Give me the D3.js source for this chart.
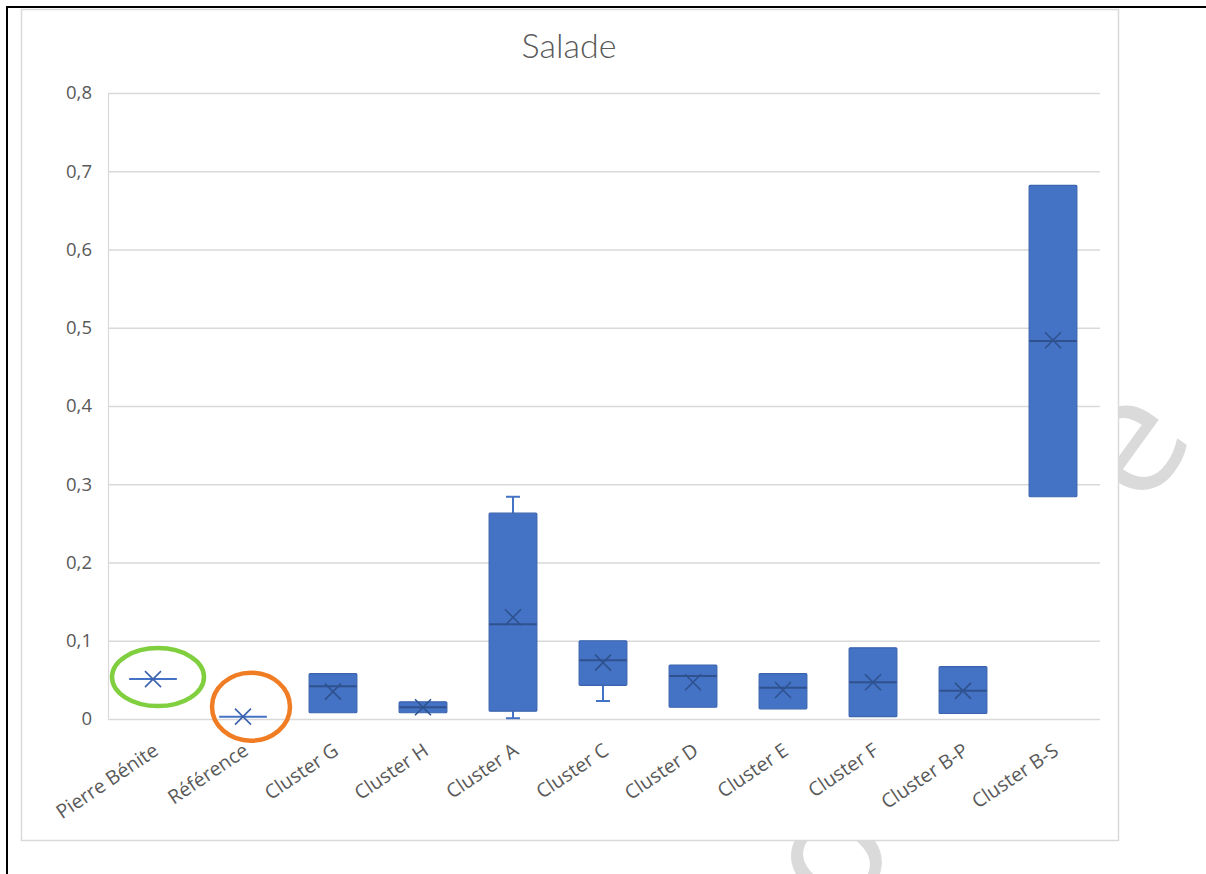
<!DOCTYPE html>
<html>
<head>
<meta charset="utf-8">
<script src="https://cdn.jsdelivr.net/npm/d3@7"></script>
<style>
  html, body { margin: 0; padding: 0; background: #fff; }
  svg { display: block; }
</style>
</head>
<body>
<svg id="chart" width="1206" height="874"></svg>
<script>
// Salade — box plots per sampling group
const categories = ["Pierre Bénite", "Référence", "Cluster G", "Cluster H", "Cluster A",
                    "Cluster C", "Cluster D", "Cluster E", "Cluster F", "Cluster B-P", "Cluster B-S"];
const minVals    = [0.051, 0.003, 0.008, 0.008, 0.001, 0.023, 0.015, 0.013, 0.003, 0.007, 0.284];
const q1Vals     = [0.051, 0.003, 0.008, 0.008, 0.010, 0.043, 0.015, 0.013, 0.003, 0.007, 0.284];
const medianVals = [0.051, 0.003, 0.042, 0.015, 0.121, 0.075, 0.055, 0.040, 0.047, 0.036, 0.483];
const q3Vals     = [0.051, 0.003, 0.058, 0.022, 0.263, 0.100, 0.069, 0.058, 0.091, 0.067, 0.682];
const maxVals    = [0.051, 0.003, 0.058, 0.022, 0.284, 0.100, 0.069, 0.058, 0.091, 0.067, 0.682];
const meanVals   = [0.051, 0.003, 0.035, 0.015, 0.130, 0.072, 0.047, 0.037, 0.047, 0.036, 0.484];
const yTicks     = [0, 0.1, 0.2, 0.3, 0.4, 0.5, 0.6, 0.7, 0.8];
const yTickLabels = ["0", "0,1", "0,2", "0,3", "0,4", "0,5", "0,6", "0,7", "0,8"];
const chartTitle = "Salade";

const svg = d3.select("#chart");
const plot = { left: 108, right: 1098, top: 93, bottom: 719 };

const x = d3.scaleBand().domain(categories).range([plot.left, plot.right]).paddingInner(0.47).paddingOuter(0.235);
const y = d3.scaleLinear().domain([0, 0.8]).range([plot.bottom, plot.top]);

const boxFill = "#4472c4", boxEdge = "#3a64b0", inner = "#2f528f";
const textCol = "#595959", gridCol = "#d9d9d9";

// page frame
svg.append("line").attr("x1", 7).attr("x2", 1206).attr("y1", 7).attr("y2", 7)
  .attr("stroke", "#000").attr("stroke-width", 2);
svg.append("line").attr("x1", 7).attr("x2", 7).attr("y1", 6).attr("y2", 874)
  .attr("stroke", "#000").attr("stroke-width", 2);

// faint watermark behind the chart
svg.append("text")
  .attr("transform", "translate(745,1060) rotate(-54)")
  .attr("font-family", "Open Sans, sans-serif").attr("font-size", 165)
  .attr("fill", "#dadada")
  .text("Provisoire");

// chart area
svg.append("rect").attr("x", 21.5).attr("y", 9.5).attr("width", 1097).attr("height", 831)
  .attr("fill", "#fff").attr("stroke", gridCol).attr("stroke-width", 1.5);

// title
svg.append("text").attr("x", 569).attr("y", 58).attr("text-anchor", "middle")
  .attr("font-family", "Lato, sans-serif").attr("font-size", 34).attr("font-weight", 300)
  .attr("fill", textCol).text(chartTitle);

// gridlines + y axis
const yAxis = d3.axisLeft(y).tickValues(yTicks).tickFormat((d, i) => yTickLabels[i])
  .tickSize(-(plot.right - plot.left + 2)).tickPadding(16);
const gy = svg.append("g").attr("transform", `translate(${plot.left},0)`).call(yAxis);
gy.select(".domain").attr("stroke", gridCol).attr("stroke-width", 1.2);
gy.selectAll(".tick line").attr("stroke", gridCol).attr("stroke-width", 1.5);
gy.selectAll(".tick text").attr("fill", textCol).attr("font-size", 18.5)
  .attr("font-family", "Open Sans, sans-serif");

// x labels
const xAxis = d3.axisBottom(x).tickSize(0).tickPadding(0);
const gx = svg.append("g").attr("transform", `translate(0,${plot.bottom})`).call(xAxis);
gx.select(".domain").remove();
gx.selectAll(".tick text")
  .attr("fill", textCol).attr("font-size", 19.5).attr("font-family", "Open Sans, sans-serif")
  .attr("text-anchor", "end")
  .attr("transform", "translate(3,29) rotate(-34)")
  .attr("dy", "0.35em").attr("y", 0);

// boxes
const rows = categories.map((c, i) => ({
  c, min: minVals[i], q1: q1Vals[i], med: medianVals[i], q3: q3Vals[i], max: maxVals[i], mean: meanVals[i]
}));
const bw = x.bandwidth();
const g = svg.append("g");
rows.forEach(d => {
  const x0 = x(d.c), cx = x0 + bw / 2;
  const cap = 7;
  // whiskers
  if (d.max > d.q3) {
    g.append("line").attr("x1", cx).attr("x2", cx).attr("y1", y(d.q3)).attr("y2", y(d.max))
      .attr("stroke", boxFill).attr("stroke-width", 2);
    g.append("line").attr("x1", cx - cap).attr("x2", cx + cap).attr("y1", y(d.max)).attr("y2", y(d.max))
      .attr("stroke", boxFill).attr("stroke-width", 2);
  }
  if (d.min < d.q1) {
    g.append("line").attr("x1", cx).attr("x2", cx).attr("y1", y(d.q1)).attr("y2", y(d.min))
      .attr("stroke", boxFill).attr("stroke-width", 2);
    g.append("line").attr("x1", cx - cap).attr("x2", cx + cap).attr("y1", y(d.min)).attr("y2", y(d.min))
      .attr("stroke", boxFill).attr("stroke-width", 2);
  }
  const h = y(d.q1) - y(d.q3);
  if (h > 0.5) {
    g.append("rect").attr("x", x0).attr("y", y(d.q3)).attr("width", bw).attr("height", h)
      .attr("fill", boxFill).attr("stroke", boxEdge).attr("stroke-width", 1.2).attr("rx", 1);
  }
  // median
  g.append("line").attr("x1", x0).attr("x2", x0 + bw).attr("y1", y(d.med)).attr("y2", y(d.med))
    .attr("stroke", h > 0.5 ? inner : boxFill).attr("stroke-width", 2);
  // mean marker
  const s = 8, my = y(d.mean);
  const mk = h > 0.5 ? inner : "#3b62ad";
  g.append("path").attr("d", `M${cx - s},${my - s}L${cx + s},${my + s}M${cx - s},${my + s}L${cx + s},${my - s}`)
    .attr("stroke", mk).attr("stroke-width", 1.6).attr("fill", "none");
});

// highlight rings around the two reference groups
const ring = (cat, val, rx, ry, dx, dy, col) => {
  svg.append("ellipse").attr("cx", x(cat) + bw / 2 + dx).attr("cy", y(val) + dy)
    .attr("rx", rx).attr("ry", ry).attr("fill", "none").attr("stroke", col).attr("stroke-width", 4.5);
};
ring("Pierre Bénite", medianVals[0], 46, 29, 5, -2, "#7fcf3f");
ring("Référence", medianVals[1], 39, 34, 8, -10, "#f07d24");
</script>
</body>
</html>
